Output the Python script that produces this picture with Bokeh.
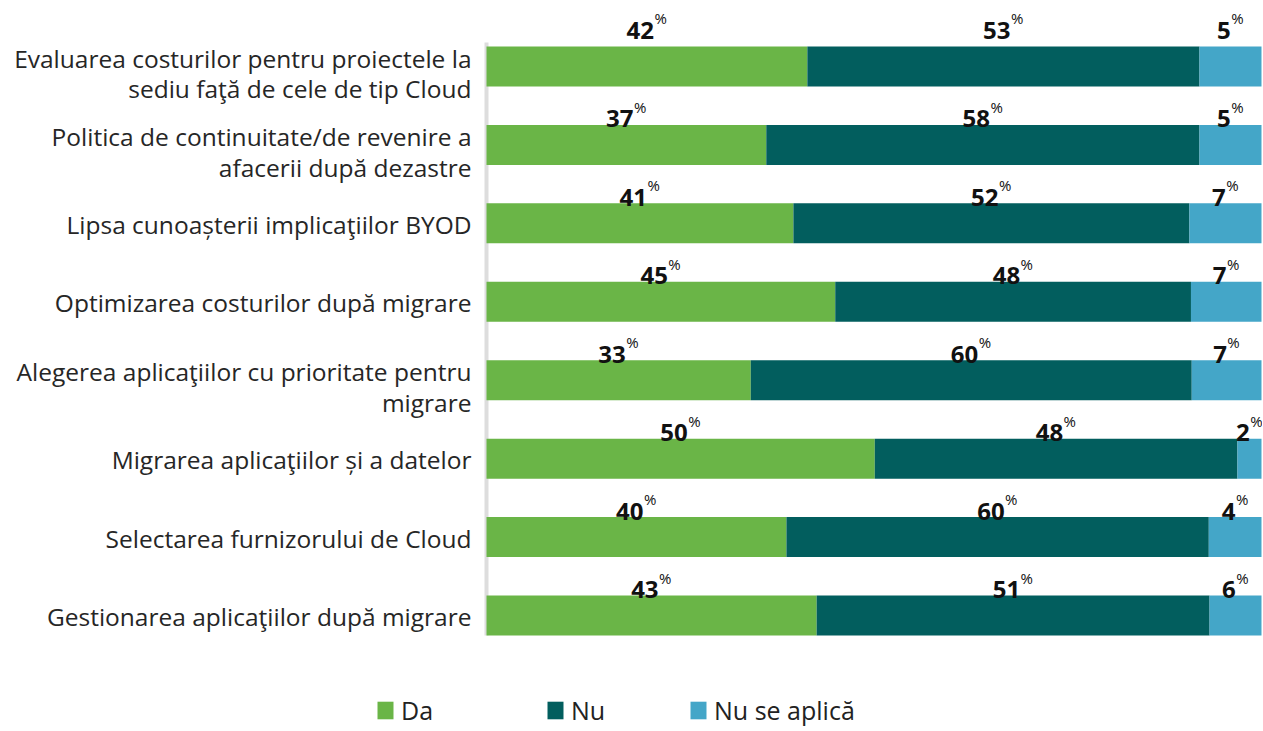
from bokeh.plotting import figure
from bokeh.models import Range1d, ColumnDataSource, Legend, LegendItem
from bokeh.core.properties import value
from bokeh.embed import file_html
from bokeh.resources import INLINE

# ---- data ----
categories = [
    "Evaluarea costurilor pentru proiectele la\nsediu faţă de cele de tip Cloud",
    "Politica de continuitate/de revenire a\nafacerii după dezastre",
    "Lipsa cunoașterii implicaţiilor BYOD",
    "Optimizarea costurilor după migrare",
    "Alegerea aplicaţiilor cu prioritate pentru\nmigrare",
    "Migrarea aplicaţiilor și a datelor",
    "Selectarea furnizorului de Cloud",
    "Gestionarea aplicaţiilor după migrare",
]
series_names = ["Da", "Nu", "Nu se aplică"]

# bar lengths as drawn (share of the bar, %)
bar_da = [41.4, 36.1, 39.6, 45.0, 34.1, 50.1, 38.7, 42.6]
bar_nu = [50.6, 55.9, 51.1, 45.9, 56.9, 46.8, 54.5, 50.7]
bar_nsa = [8.0, 8.0, 9.3, 9.1, 9.0, 3.1, 6.8, 6.7]

# value labels printed above the bars (%)
label_da = [42, 37, 41, 45, 33, 50, 40, 43]
label_nu = [53, 58, 52, 48, 60, 48, 60, 51]
label_nsa = [5, 5, 7, 7, 7, 2, 4, 6]

colors = ["#6AB547", "#025E5E", "#44A6C8"]

# ---- layout constants ----
BAR_H = 0.51
ys = list(range(len(categories)))

src = ColumnDataSource(dict(y=ys, da=bar_da, nu=bar_nu, nsa=bar_nsa, cat=categories,
                            cyo=[7 if "\n" in c else 1 for c in categories]))

p = figure(
    width=1262, height=729,
    x_range=Range1d(-62.71, 100.13),
    y_range=Range1d(8.4535, -0.8415),
    x_axis_location=None, y_axis_location=None,
    output_backend="svg", toolbar_location=None,
    min_border=0,
)
p.background_fill_color = "white"
p.border_fill_color = "white"
p.outline_line_color = None
p.grid.visible = False

# light axis line beneath the bars
p.segment(x0=[0], y0=[-0.306], x1=[0], y1=[len(ys) - 1 + BAR_H / 2],
          line_color="#DDDDDD", line_width=4)

renderers = p.hbar_stack(["da", "nu", "nsa"], y="y", height=BAR_H, color=colors,
                         line_color=None, source=src)

# category labels (left of the bars)
p.text(x=0, y="y", text="cat", source=src, x_offset=-15, y_offset="cyo",
       text_font=value("Open Sans"), text_font_size="24.5px", text_color="#262626",
       text_align="right", text_baseline="middle", text_line_height=0.93)

# ---- value labels ----
nx, ny, nt, nxo, nyo = [], [], [], [], []
lefts = [0.0] * len(ys)
for bars, labs in [(bar_da, label_da), (bar_nu, label_nu), (bar_nsa, label_nsa)]:
    for i in ys:
        center = lefts[i] + bars[i] / 2
        t = str(labs[i])
        nx.append(center)
        ny.append(i - BAR_H / 2)
        nt.append(t)
        nxo.append(13.5 * len(t) / 2 - 6.5)
        nyo.append(-16 if i == 0 else -6)
        lefts[i] += bars[i]

num_src = ColumnDataSource(dict(x=nx, y=ny, t=nt, xo=nxo, yo=nyo,
                                pxo=[v + 0.5 for v in nxo],
                                pyo=[v - 12 for v in nyo],
                                pt=["%"] * len(nt)))
p.text(x="x", y="y", text="t", x_offset="xo", y_offset="yo", source=num_src,
       text_font=value("Open Sans"), text_font_style="bold", text_font_size="24px",
       text_align="right", text_baseline="alphabetic", text_color="#111111")
p.text(x="x", y="y", text="pt", x_offset="pxo", y_offset="pyo", source=num_src,
       text_font=value("Open Sans"), text_font_size="15px",
       text_align="left", text_baseline="alphabetic", text_color="#111111")

# ---- legend: one entry per block, placed like the original ----
legend_x = [375, 545, 688]
for name, r, lx in zip(series_names, renderers, legend_x):
    lg = Legend(
        items=[LegendItem(label=name, renderers=[r])],
        orientation="horizontal",
        location=(lx, 2),
        glyph_width=20, glyph_height=22,
        label_standoff=6, spacing=0,
        padding=0, margin=0, label_height=22,
        border_line_color=None, background_fill_alpha=0,
        label_text_font="Open Sans", label_text_font_size="25px",
        label_text_line_height=0.75,
        label_text_color="#222222",
    )
    p.add_layout(lg, "center")

open("out.html", "w").write(file_html(p, INLINE))
